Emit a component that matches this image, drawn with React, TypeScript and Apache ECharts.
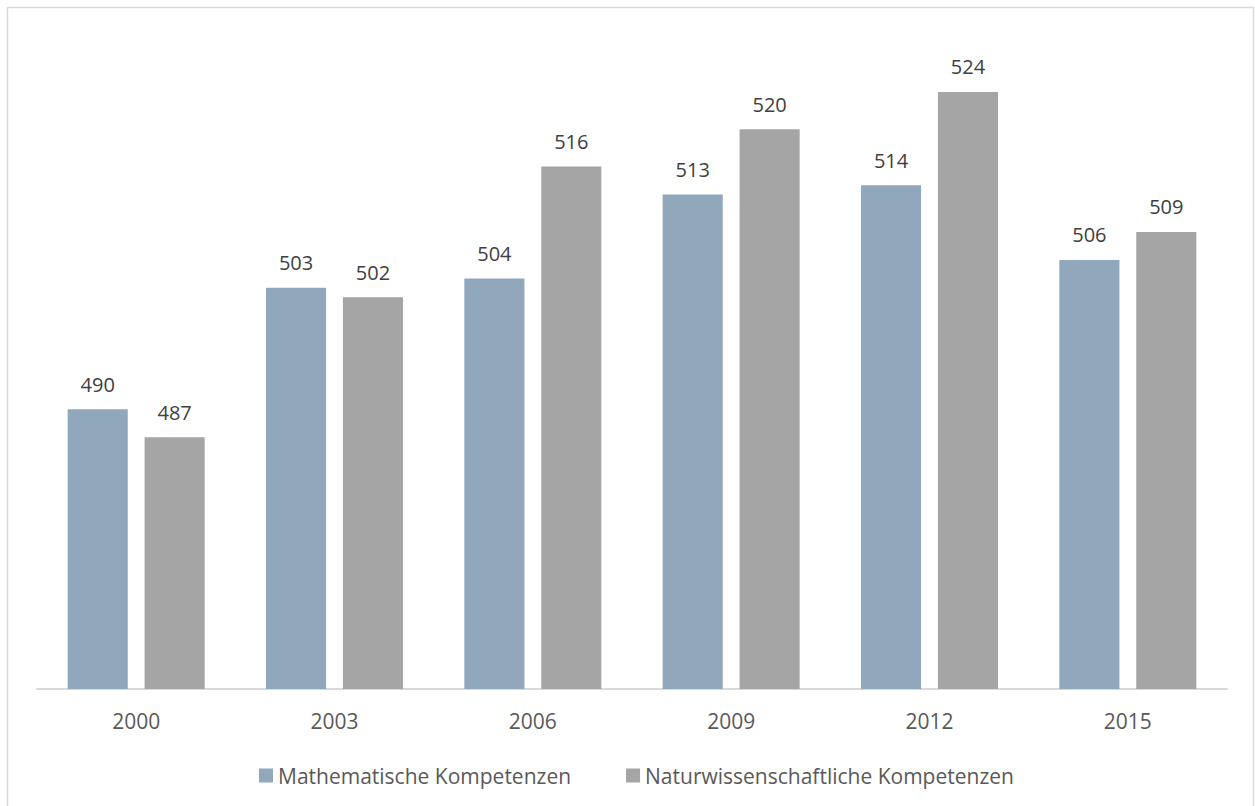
import React, { useEffect, useRef } from "react";
import * as echarts from "echarts";

const categories = ["2000", "2003", "2006", "2009", "2012", "2015"];
const mathValues = [490, 503, 504, 513, 514, 506];
const scienceValues = [487, 502, 516, 520, 524, 509];
const seriesNames = ["Mathematische Kompetenzen", "Naturwissenschaftliche Kompetenzen"];

const FONT = "'Open Sans', 'Noto Sans', sans-serif";

export default function App() {
  const ref = useRef<HTMLDivElement>(null);
  useEffect(() => {
    if (!ref.current) return;
    const chart = echarts.init(ref.current, null, { renderer: "svg" });
    const label = {
      show: true,
      position: "top",
      distance: 15,
      color: "#404040",
      fontSize: 20,
      fontFamily: FONT,
    };
    chart.setOption({
      animation: false,
      backgroundColor: "#ffffff",
      graphic: [
        {
          type: "rect",
          shape: { x: 7.5, y: 7.5, width: 1246, height: 810 },
          style: { fill: "none", stroke: "#d9d9d9", lineWidth: 1.5 },
          silent: true,
        },
      ],
      grid: { left: 37, right: 28, top: 36, bottom: 117 },
      legend: {
        top: 760,
        left: 254,
        itemWidth: 14,
        itemHeight: 14,
        itemGap: 55,
        icon: "rect",
        textStyle: { color: "#595959", fontSize: 21, fontFamily: FONT },
        data: seriesNames,
      },
      xAxis: {
        type: "category",
        data: categories,
        axisLine: { lineStyle: { color: "#d9d9d9", width: 2 } },
        axisTick: { show: false },
        axisLabel: { color: "#595959", fontSize: 21, fontFamily: FONT, margin: 21 },
      },
      yAxis: {
        type: "value",
        min: 460,
        max: 530,
        show: false,
        splitLine: { show: false },
      },
      series: [
        {
          name: seriesNames[0],
          type: "bar",
          data: mathValues,
          barWidth: "30.3%",
          barGap: "28%",
          itemStyle: { color: "#91a7bc" },
          label,
        },
        {
          name: seriesNames[1],
          type: "bar",
          data: scienceValues,
          barWidth: "30.3%",
          barGap: "28%",
          itemStyle: { color: "#a5a5a5" },
          label,
        },
      ],
    });
    return () => chart.dispose();
  }, []);
  return (
    <div
      ref={ref}
      style={{ position: "absolute", left: 0, top: 0, width: 1255, height: 806 }}
    />
  );
}
